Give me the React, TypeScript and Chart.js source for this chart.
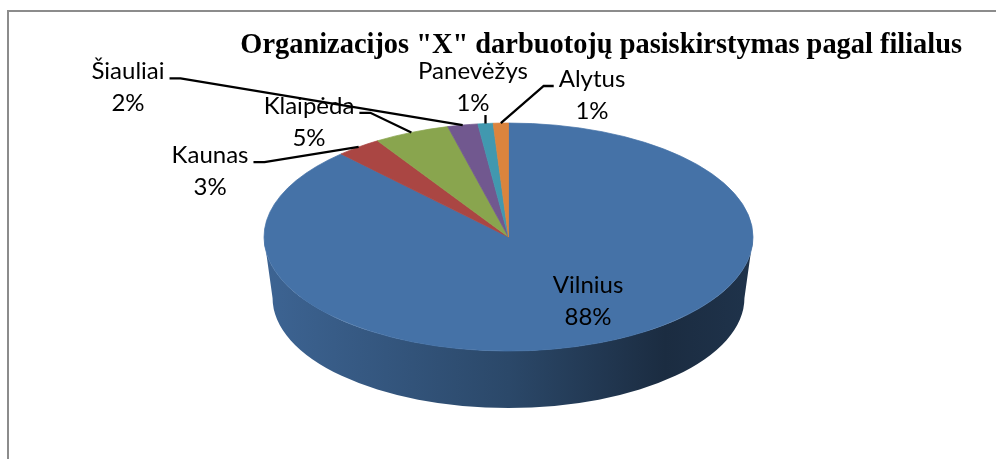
import React, { useEffect, useRef } from "react";
import { Chart, registerables } from "chart.js";

Chart.register(...registerables);

// ---- data ----
const TITLE = 'Organizacijos "X" darbuotojų pasiskirstymas pagal filialus';
const BRANCHES = ["Vilnius", "Kaunas", "Klaipėda", "Šiauliai", "Panevėžys", "Alytus"];
const SHARES = [88, 3, 5, 2, 1, 1];
const SHARE_LABELS = ["88%", "3%", "5%", "2%", "1%", "1%"];
const SLICE_COLORS = ["#4572A7", "#AA4643", "#89A54E", "#71588F", "#4198AF", "#DB843D"];

// ---- layout / style ----
const CANVAS_W = 996;
const CANVAS_H = 459;
const PIE_RADIUS = 244.5;
const TILT = 114 / 244.5;
const DEPTH = 61;
const BOTTOM_SHRINK = 0.965;
const LABEL_FONT = "24px Lato, 'Open Sans', sans-serif";
const LINE_GAP = 32;
// label (centre x, first-line baseline) relative to the slice's rim point
const LABEL_OFFSETS: [number, number][] = [
  [-10.5, -50.3],
  [-148.6, 16.1],
  [-102.4, -18.6],
  [-334.7, -45.7],
  [-12.5, -44.5],
  [91.2, -36.1],
];
const LEADER_MODES = ["none", "left", "left", "left", "up", "right"];

function shade(hex: string, f: number): string {
  const n = parseInt(hex.slice(1), 16);
  const r = Math.round(((n >> 16) & 255) * f);
  const g = Math.round(((n >> 8) & 255) * f);
  const b = Math.round((n & 255) * f);
  return `rgb(${r},${g},${b})`;
}

const pie3d = {
  id: "pie3d",
  beforeDraw(chart: any) {
    const ctx = chart.ctx;
    ctx.save();
    ctx.fillStyle = "#8c8c8c";
    ctx.fillRect(7, 10, 2, CANVAS_H);
    ctx.fillRect(7, 10, CANVAS_W, 2);
    ctx.restore();
  },
  beforeDatasetsDraw(chart: any) {
    const ctx = chart.ctx;
    const meta = chart.getDatasetMeta(0);
    const a0 = meta.data[0];
    const cx = a0.x, cy = a0.y, r = a0.outerRadius;
    const ry = r * TILT;
    const rb = r * BOTTOM_SHRINK, ryb = ry * BOTTOM_SHRINK;
    const cyB = cy + DEPTH;
    meta.data.forEach((arc: any, i: number) => {
      for (const k of [-2, -1, 0, 1]) {
        const s = Math.max(arc.startAngle + k * 2 * Math.PI, 0);
        const e = Math.min(arc.endAngle + k * 2 * Math.PI, Math.PI);
        if (e <= s) continue;
        const col = SLICE_COLORS[i];
        const grad = ctx.createLinearGradient(cx - r, 0, cx + r, 0);
        grad.addColorStop(0, shade(col, 0.88));
        grad.addColorStop(0.5, shade(col, 0.63));
        grad.addColorStop(0.82, shade(col, 0.39));
        grad.addColorStop(1, shade(col, 0.45));
        ctx.save();
        ctx.beginPath();
        ctx.ellipse(cx, cy, r, ry, 0, s, e, false);
        ctx.lineTo(cx + rb * Math.cos(e), cyB + ryb * Math.sin(e));
        ctx.ellipse(cx, cyB, rb, ryb, 0, e, s, true);
        ctx.closePath();
        ctx.fillStyle = grad;
        ctx.fill();
        ctx.restore();
      }
    });
    ctx.save();
    ctx.translate(cx, cy);
    ctx.scale(1, TILT);
    ctx.translate(-cx, -cy);
  },
  afterDatasetsDraw(chart: any) {
    const ctx = chart.ctx;
    ctx.restore();
    const meta = chart.getDatasetMeta(0);
    const a0 = meta.data[0];
    const cx = a0.x, cy = a0.y, r = a0.outerRadius;
    ctx.save();
    ctx.font = LABEL_FONT;
    ctx.fillStyle = "#000";
    ctx.strokeStyle = "#000";
    ctx.lineWidth = 2.3;
    ctx.textAlign = "center";
    ctx.textBaseline = "alphabetic";
    meta.data.forEach((arc: any, i: number) => {
      const mid = (arc.startAngle + arc.endAngle) / 2;
      const ax = cx + r * Math.cos(mid);
      const ay = cy + r * TILT * Math.sin(mid);
      const [dx, dy] = LABEL_OFFSETS[i];
      const lx = ax + dx, ly = ay + dy;
      ctx.fillText(BRANCHES[i], lx, ly);
      ctx.fillText(SHARE_LABELS[i], lx, ly + LINE_GAP);
      const w = ctx.measureText(BRANCHES[i]).width;
      const mode = LEADER_MODES[i];
      ctx.beginPath();
      if (mode === "left") {
        const ex = lx + w / 2 + 5, ey = ly - 1;
        ctx.moveTo(ex, ey);
        ctx.lineTo(ex + 11, ey);
        ctx.lineTo(ax, ay);
        ctx.stroke();
      } else if (mode === "right") {
        const ex = lx - w / 2 - 5, ey = ly - 1;
        ctx.moveTo(ex, ey);
        ctx.lineTo(ex - 10, ey);
        ctx.lineTo(ax, ay);
        ctx.stroke();
      } else if (mode === "up") {
        ctx.moveTo(ax, ay);
        ctx.lineTo(ax, ly + LINE_GAP + 4);
        ctx.stroke();
      }
    });
    ctx.restore();
  },
};

export default function App() {
  const ref = useRef<HTMLCanvasElement | null>(null);
  useEffect(() => {
    if (!ref.current) return;
    const chart = new Chart(ref.current, {
      type: "pie",
      data: {
        labels: BRANCHES,
        datasets: [
          {
            data: SHARES,
            backgroundColor: SLICE_COLORS,
            borderColor: SLICE_COLORS,
            borderWidth: 1,
            radius: PIE_RADIUS,
            clip: false,
          } as any,
        ],
      },
      options: {
        responsive: false,
        animation: false,
        devicePixelRatio: 1,
        events: [],
        layout: { padding: { left: 55, right: 34, top: 29, bottom: 48 } },
        plugins: {
          legend: { display: false },
          tooltip: { enabled: false },
          title: {
            display: true,
            text: TITLE,
            align: "end",
            color: "#000",
            font: { family: "'Liberation Serif', 'Times New Roman', serif", size: 28.4, weight: "bold", lineHeight: 1.2 },
            padding: { top: 0, bottom: 0 },
          },
        },
      } as any,
      plugins: [pie3d as any],
    });
    return () => chart.destroy();
  }, []);
  return (
    <div style={{ position: "fixed", left: 0, top: 0, width: CANVAS_W, height: CANVAS_H, overflow: "hidden", background: "#fff" }}>
      <canvas ref={ref} width={CANVAS_W} height={CANVAS_H} style={{ display: "block" }} />
    </div>
  );
}
